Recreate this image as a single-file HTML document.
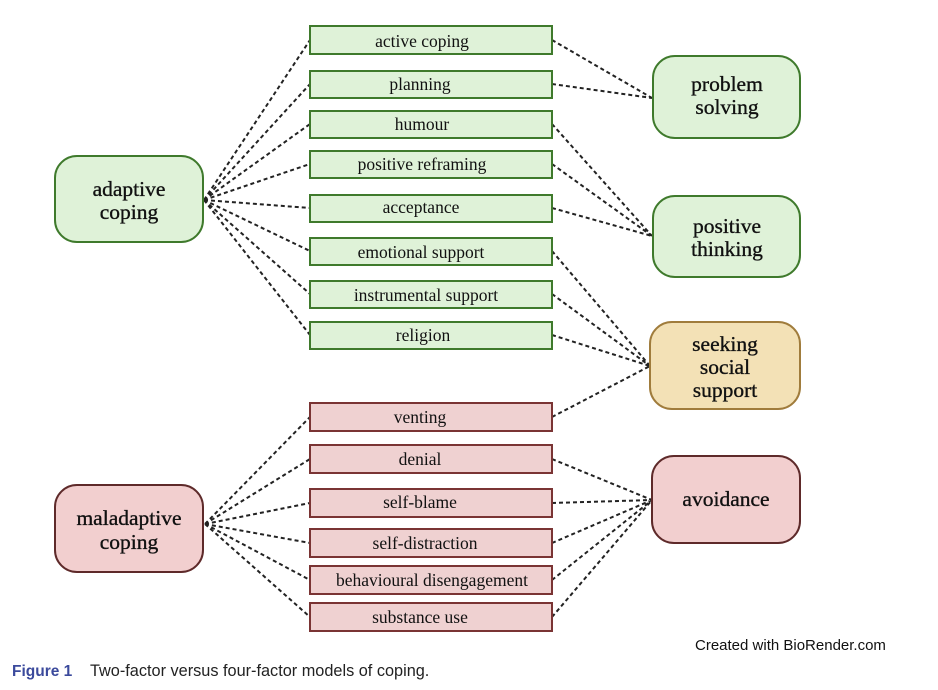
<!DOCTYPE html>
<html><head><meta charset="utf-8"><style>
html,body{margin:0;padding:0;background:#fff;}
svg{display:block;}
.b{font-family:"Liberation Serif",serif;font-size:17.5px;fill:#111;text-anchor:middle;}
.n{font-family:"Liberation Serif",serif;font-size:21.5px;fill:#111;text-anchor:middle;stroke:#111;stroke-width:0.35;}
.l{stroke:#222;stroke-width:2;stroke-dasharray:4,3;fill:none;}
</style></head><body>
<svg width="938" height="690" viewBox="0 0 938 690" xmlns="http://www.w3.org/2000/svg">
<g class="l">
<path d="M204,200L310,40M204,200L310,84M204,200L310,124M204,200L310,164M204,200L310,208M204,200L310,251M204,200L310,294M204,200L310,335"/>
<path d="M205,524L310,417M205,524L310,459M205,524L310,503M205,524L310,543M205,524L310,580M205,524L310,617"/>
<path d="M552,40L652,98M552,84L652,98"/>
<path d="M552,124L652,236M552,164L652,236M552,208L652,236"/>
<path d="M552,251L650,366M552,294L650,366M552,335L650,366M552,417L650,366"/>
<path d="M552,459L652,500M552,503L652,500M552,543L652,500M552,580L652,500M552,617L652,500"/>
</g>
<g fill="#dff2d8" stroke="#3f7a2c" stroke-width="2">
<rect x="310" y="26" width="242" height="28"/>
<rect x="310" y="71" width="242" height="27"/>
<rect x="310" y="111" width="242" height="27"/>
<rect x="310" y="151" width="242" height="27"/>
<rect x="310" y="195" width="242" height="27"/>
<rect x="310" y="238" width="242" height="27"/>
<rect x="310" y="281" width="242" height="27"/>
<rect x="310" y="322" width="242" height="27"/>
<rect x="55" y="156" width="148" height="86" rx="22"/>
<rect x="653" y="56" width="147" height="82" rx="22"/>
<rect x="653" y="196" width="147" height="81" rx="22"/>
</g>
<g fill="#efd1d1" stroke="#7a3434" stroke-width="2">
<rect x="310" y="403" width="242" height="28"/>
<rect x="310" y="445" width="242" height="28"/>
<rect x="310" y="489" width="242" height="28"/>
<rect x="310" y="529" width="242" height="28"/>
<rect x="310" y="566" width="242" height="28"/>
<rect x="310" y="603" width="242" height="28"/>
</g>
<rect x="55" y="485" width="148" height="87" rx="22" fill="#f2cfcf" stroke="#5e2a2a" stroke-width="2"/>
<rect x="652" y="456" width="148" height="87" rx="22" fill="#f2cfcf" stroke="#5e2a2a" stroke-width="2"/>
<rect x="650" y="322" width="150" height="87" rx="22" fill="#f3e1b6" stroke="#a07c3c" stroke-width="2"/>
<g class="b">
<text x="422" y="47">active coping</text>
<text x="420" y="90">planning</text>
<text x="422" y="130">humour</text>
<text x="422" y="170">positive reframing</text>
<text x="421" y="213">acceptance</text>
<text x="421" y="258">emotional support</text>
<text x="426" y="301">instrumental support</text>
<text x="423" y="341">religion</text>
<text x="420" y="423">venting</text>
<text x="420" y="465">denial</text>
<text x="420" y="508">self-blame</text>
<text x="425" y="549">self-distraction</text>
<text x="432" y="586">behavioural disengagement</text>
<text x="420" y="623">substance use</text>
</g>
<g class="n">
<text x="129" y="196">adaptive</text><text x="129" y="219">coping</text>
<text x="129" y="525">maladaptive</text><text x="129" y="549">coping</text>
<text x="727" y="91">problem</text><text x="727" y="114">solving</text>
<text x="727" y="233">positive</text><text x="727" y="256">thinking</text>
<text x="725" y="351">seeking</text><text x="725" y="374">social</text><text x="725" y="397">support</text>
<text x="726" y="506">avoidance</text>
</g>
<text x="695" y="650" font-family="Liberation Sans,sans-serif" font-size="15" fill="#111">Created with BioRender.com</text>
<text x="12" y="676" font-family="Liberation Sans,sans-serif" font-size="15.5" fill="#3b4a9c" font-weight="bold">Figure 1</text>
<text x="90" y="676" font-family="Liberation Sans,sans-serif" font-size="16.3" fill="#222">Two-factor versus four-factor models of coping.</text>
</svg>
</body></html>
